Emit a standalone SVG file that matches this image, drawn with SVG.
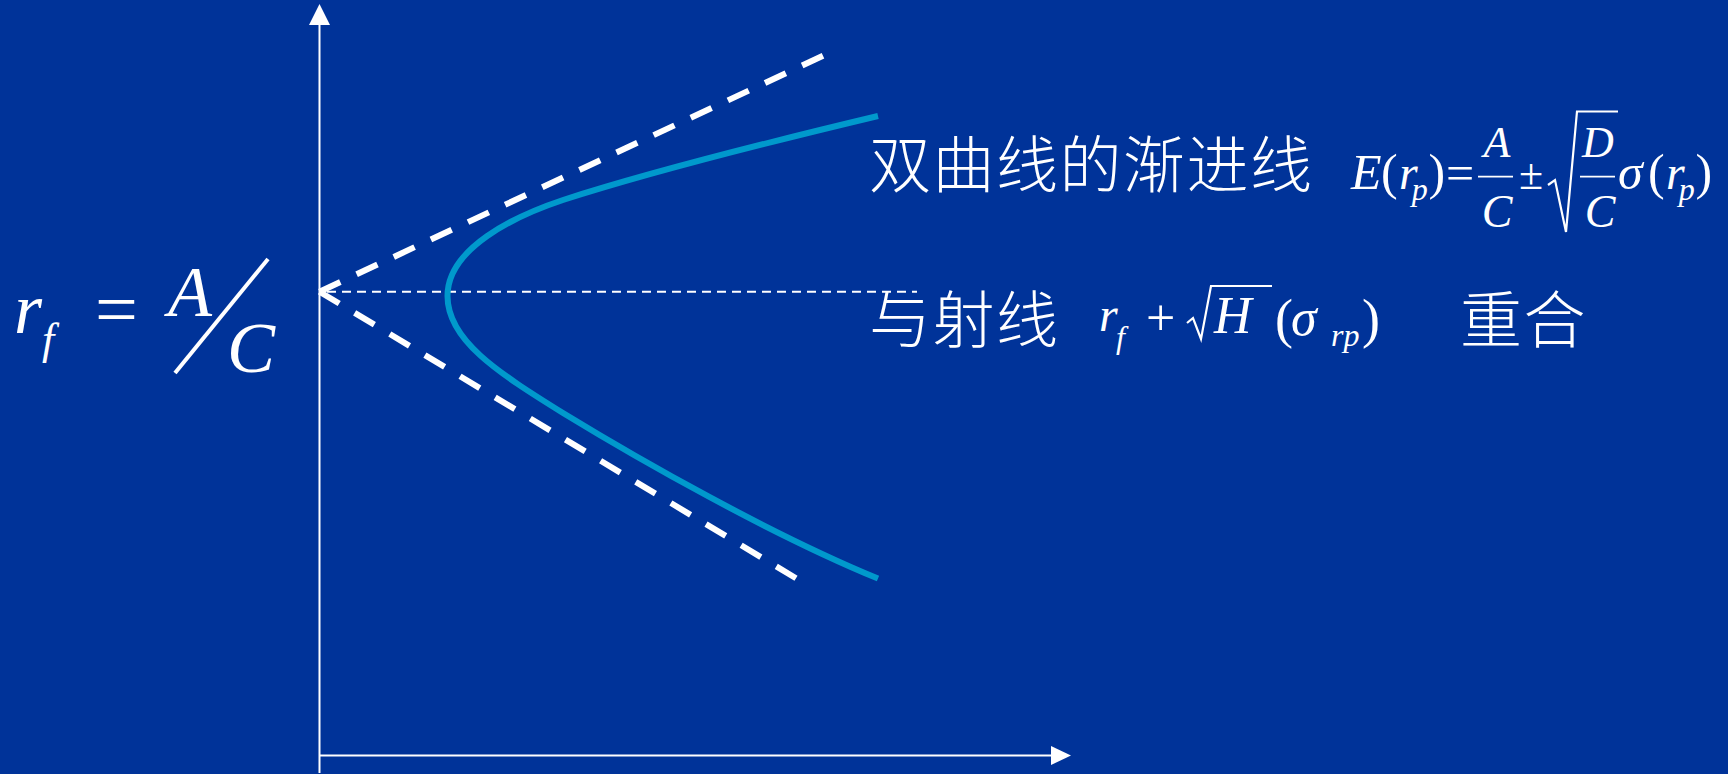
<svg xmlns="http://www.w3.org/2000/svg" width="1728" height="774" viewBox="0 0 1728 774">
<style>
.m{font-family:"Liberation Serif","Times New Roman",serif;fill:#fff;font-style:italic}
.u{font-family:"Liberation Serif","Times New Roman",serif;fill:#fff;font-style:normal}
.cn{font-family:"Noto Sans CJK SC","Noto Sans",sans-serif;fill:#fff;font-size:62px;font-weight:300;letter-spacing:1.5px}
.ax{stroke:#fff;stroke-width:2;fill:none}
.asym{stroke:#fff;stroke-width:6;stroke-dasharray:23 18;fill:none}
.thin{stroke:#fff;stroke-width:2;stroke-dasharray:9 6;fill:none}
.bar{stroke:#fff;stroke-width:1.8;fill:none}
.rad{stroke:#fff;stroke-width:2.2;fill:none;stroke-linejoin:miter}
</style>
<rect width="1728" height="774" fill="#003399"/>
<g id="axes">
<line class="ax" x1="319.5" y1="24" x2="319.5" y2="773"/>
<polygon points="319.5,4 309,25 330,25" fill="#fff"/>
<line class="ax" x1="319" y1="755.5" x2="1052" y2="755.5"/>
<polygon points="1051,746 1071,755.5 1051,765" fill="#fff"/>
</g>
<g id="connectors">
<line class="asym" x1="319.5" y1="291.7" x2="829" y2="53"/>
<line class="asym" x1="319.5" y1="291.7" x2="799" y2="580"/>
<line class="thin" x1="327" y1="291.7" x2="917" y2="291.7"/>
</g>
<g id="curve">
<path d="M878,116 C790,137 650,172 563,200 C515,216 447.5,248 447.5,296 C447.5,340 497,372 563,413 C640,460 770,534 878,578.5" stroke="#0099CC" stroke-width="6" fill="none"/>
</g>
<g id="rf-label">
<text class="m" x="14" y="333" font-size="72">r</text>
<text class="m" x="42" y="354" font-size="44">f</text>
<text class="u" x="95" y="335" font-size="76">=</text>
<text class="m" x="168" y="316" font-size="72">A</text>
<line x1="268" y1="259" x2="175" y2="373" stroke="#fff" stroke-width="4"/>
<text class="m" x="227" y="372" font-size="72">C</text>
</g>
<g id="asymptote-label">
<text class="cn" x="869" y="188">双曲线的渐进线</text>
<text class="m" x="1351" y="189" font-size="50">E</text>
<text class="u" x="1381" y="189" font-size="50">(</text>
<text class="m" x="1399" y="189" font-size="48">r<tspan dx="-6" dy="11" font-size="32">p</tspan></text>
<text class="u" x="1428.5" y="189" font-size="50">)</text>
<text class="u" x="1446" y="190" font-size="50">=</text>
<text class="m" x="1497" y="157" font-size="44" text-anchor="middle">A</text>
<line class="bar" x1="1478" y1="176.7" x2="1513" y2="176.7"/>
<text class="m" x="1497" y="227" font-size="46" text-anchor="middle">C</text>
<text class="u" x="1519" y="189" font-size="44">±</text>
<path class="rad" d="M1548,185 L1555,180 L1566,232 L1577,111.5 H1618"/>
<text class="m" x="1598" y="157" font-size="44" text-anchor="middle">D</text>
<line class="bar" x1="1580" y1="176.7" x2="1615" y2="176.7"/>
<text class="m" x="1600" y="227" font-size="46" text-anchor="middle">C</text>
<text class="m" x="1618" y="189" font-size="50">σ</text>
<text class="u" x="1648" y="189" font-size="50">(</text>
<text class="m" x="1666" y="189" font-size="48">r<tspan dx="-6" dy="11" font-size="32">p</tspan></text>
<text class="u" x="1695.5" y="189" font-size="50">)</text>
</g>
<g id="ray-label">
<text class="cn" x="869" y="343">与射线</text>
<text class="m" x="1099" y="331" font-size="48">r</text>
<text class="m" x="1116" y="348" font-size="32">f</text>
<text class="u" x="1146" y="335" font-size="52">+</text>
<path class="rad" d="M1187,323 L1193,318 L1201,339 L1211,286 H1272"/>
<text class="m" x="1214" y="333" font-size="52">H</text>
<text class="u" x="1275" y="337" font-size="54">(</text>
<text class="m" x="1291" y="335" font-size="52">σ</text>
<text class="m" x="1331" y="346" font-size="32">rp</text>
<text class="u" x="1362" y="337" font-size="54">)</text>
<text class="cn" x="1460" y="343">重合</text>
</g>
</svg>
